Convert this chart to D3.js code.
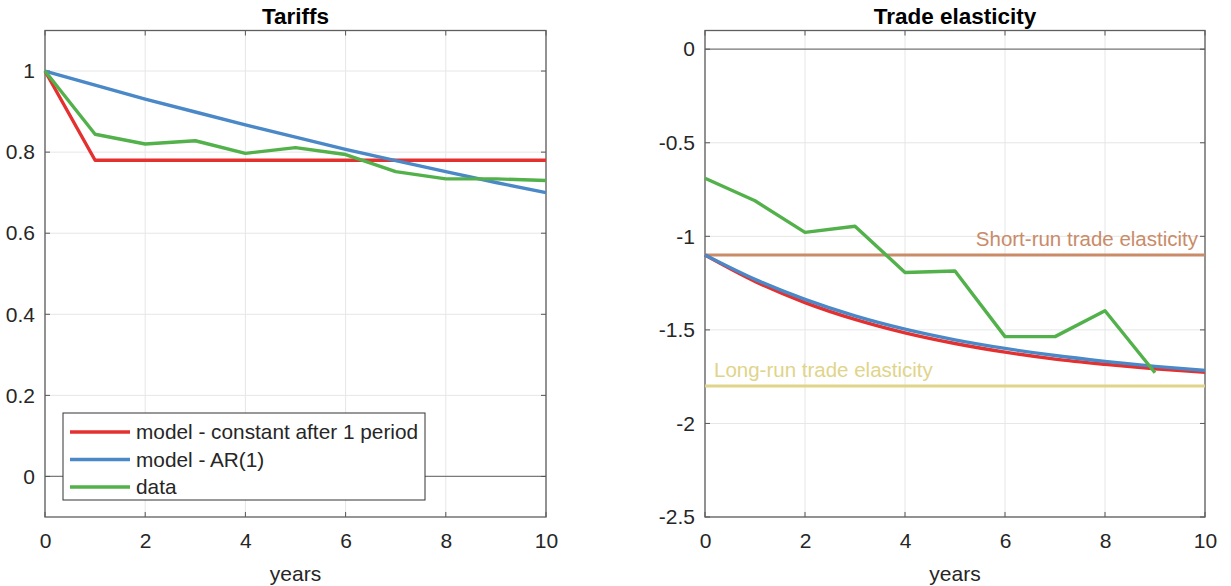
<!DOCTYPE html>
<html>
<head>
<meta charset="utf-8">
<script src="https://cdn.jsdelivr.net/npm/d3@7/dist/d3.min.js"></script>
<style>
  body { margin: 0; background: #fff; }
  text { font-family: "Liberation Sans", Arial, sans-serif; }
</style>
</head>
<body>
<div id="chart"></div>
<script>
// years on the x axis
var years = [0, 1, 2, 3, 4, 5, 6, 7, 8, 9, 10];

// Tariffs panel
var tariffConst = [1, 0.78, 0.78, 0.78, 0.78, 0.78, 0.78, 0.78, 0.78, 0.78, 0.78];
var tariffAR1 = [1, 0.965, 0.931, 0.899, 0.867, 0.837, 0.807, 0.779, 0.752, 0.725, 0.700];
var tariffData = [1, 0.844, 0.82, 0.828, 0.797, 0.811, 0.794, 0.752, 0.734, 0.734, 0.73];
var tariffTicks = [0, 0.2, 0.4, 0.6, 0.8, 1];

// Trade elasticity panel
var elastConst = [-1.100, -1.241, -1.354, -1.444, -1.516, -1.573, -1.619, -1.656, -1.684, -1.708, -1.727];
var elastAR1 = [-1.100, -1.230, -1.337, -1.425, -1.496, -1.553, -1.599, -1.637, -1.668, -1.695, -1.717];
var elastData = [-0.69, -0.81, -0.979, -0.946, -1.193, -1.185, -1.536, -1.536, -1.398, -1.729];
var elastTicks = [-2.5, -2, -1.5, -1, -0.5, 0];
var shortRun = -1.1;
var longRun = -1.8;

var xTicks = [0, 2, 4, 6, 8, 10];
var legendLabels = ["model - constant after 1 period", "model - AR(1)", "data"];

var colors = {
  red: "#e4302f",
  blue: "#4a88c7",
  green: "#52b14a",
  shortRun: "#c98b68",
  longRun: "#e0d48a",
  text: "#262626"
};

var svg = d3.select("#chart")
  .append("svg")
  .attr("width", 1231)
  .attr("height", 586);

// draw one MATLAB-style axes box
function drawPanel(opts) {
  var g = svg.append("g").attr("transform", `translate(${opts.left}, ${opts.top})`);
  var x = d3.scaleLinear().domain([0, 10]).range([0, opts.width]);
  var y = d3.scaleLinear().domain(opts.yDomain).range([opts.height, 0]);

  // grid
  g.selectAll(".vgrid").data(xTicks).enter().append("line")
    .attr("x1", d => x(d)).attr("x2", d => x(d))
    .attr("y1", 0).attr("y2", opts.height)
    .attr("stroke", "#e6e6e6").attr("stroke-width", 1);
  g.selectAll(".hgrid").data(opts.yTicks).enter().append("line")
    .attr("x1", 0).attr("x2", opts.width)
    .attr("y1", d => y(d)).attr("y2", d => y(d))
    .attr("stroke", "#e6e6e6").attr("stroke-width", 1);

  // zero line
  g.append("line")
    .attr("x1", x(0)).attr("x2", x(10))
    .attr("y1", y(0)).attr("y2", y(0))
    .attr("stroke", "#7a7a7a").attr("stroke-width", 1.3);

  // axes with inner ticks
  var bottomAxis = d3.axisBottom(x).tickValues(xTicks).tickSize(0).tickPadding(16).tickFormat(d3.format("d"));
  var leftAxis = d3.axisLeft(y).tickValues(opts.yTicks).tickSize(0).tickPadding(10).tickFormat(d => String(d));

  var bx = g.append("g").attr("transform", `translate(0, ${opts.height})`).call(bottomAxis);
  var lx = g.append("g").call(leftAxis);
  [bx, lx].forEach(function(a) {
    a.select(".domain").remove();
    a.selectAll("text").style("font-size", "21px").attr("fill", colors.text)
      .style("font-family", "'Liberation Sans', Arial, sans-serif");
  });

  var tl = 5;
  g.selectAll(".xt").data(xTicks).enter().append("path")
    .attr("d", d => `M${x(d)},${opts.height}v${-tl}M${x(d)},0v${tl}`)
    .attr("stroke", "#555").attr("stroke-width", 1);
  g.selectAll(".yt").data(opts.yTicks).enter().append("path")
    .attr("d", d => `M0,${y(d)}h${tl}M${opts.width},${y(d)}h${-tl}`)
    .attr("stroke", "#555").attr("stroke-width", 1);

  g.append("rect")
    .attr("x", 0).attr("y", 0)
    .attr("width", opts.width).attr("height", opts.height)
    .attr("fill", "none").attr("stroke", "#5e5e5e").attr("stroke-width", 1.3);

  // title
  g.append("text")
    .attr("x", opts.width / 2).attr("y", -7)
    .attr("text-anchor", "middle")
    .style("font-size", "22.5px").style("font-weight", "bold")
    .attr("fill", "#000")
    .text(opts.title);

  // x label
  g.append("text")
    .attr("x", opts.width / 2).attr("y", opts.height + 64)
    .attr("text-anchor", "middle")
    .style("font-size", "21px")
    .attr("fill", colors.text)
    .text("years");

  return { g: g, x: x, y: y };
}

function addLine(p, values, color, curve) {
  var line = d3.line()
    .x((d, i) => p.x(years[i]))
    .y(d => p.y(d))
    .curve(curve || d3.curveLinear);
  p.g.append("path")
    .datum(values)
    .attr("d", line)
    .attr("fill", "none")
    .attr("stroke", color)
    .attr("stroke-width", 3.4)
    .attr("stroke-linejoin", "round");
}

// left panel: Tariffs
var left = drawPanel({
  left: 45, top: 30.5, width: 501, height: 486.5,
  yDomain: [-0.1, 1.1], yTicks: tariffTicks, title: "Tariffs"
});
addLine(left, tariffConst, colors.red);
addLine(left, tariffAR1, colors.blue);
addLine(left, tariffData, colors.green);

// legend
var lg = svg.append("g").attr("transform", "translate(63, 413)");
lg.append("rect")
  .attr("width", 362).attr("height", 87)
  .attr("fill", "#fff").attr("stroke", "#333").attr("stroke-width", 1);
var legendColors = [colors.red, colors.blue, colors.green];
legendLabels.forEach(function(lab, i) {
  var yy = 19 + i * 27.5;
  lg.append("line")
    .attr("x1", 7).attr("x2", 67).attr("y1", yy).attr("y2", yy)
    .attr("stroke", legendColors[i]).attr("stroke-width", 3.4);
  lg.append("text")
    .attr("x", 73).attr("y", yy + 7)
    .style("font-size", "20.8px")
    .attr("fill", colors.text)
    .text(lab);
});

// right panel: Trade elasticity
var right = drawPanel({
  left: 705, top: 30.5, width: 500, height: 486.5,
  yDomain: [-2.5, 0.1], yTicks: elastTicks, title: "Trade elasticity"
});

[[shortRun, colors.shortRun], [longRun, colors.longRun]].forEach(function(h) {
  right.g.append("line")
    .attr("x1", right.x(0)).attr("x2", right.x(10))
    .attr("y1", right.y(h[0])).attr("y2", right.y(h[0]))
    .attr("stroke", h[1]).attr("stroke-width", 3);
});

right.g.append("text")
  .attr("x", right.x(10) - 7).attr("y", right.y(shortRun) - 9)
  .attr("text-anchor", "end")
  .style("font-size", "20.5px")
  .attr("fill", colors.shortRun)
  .text("Short-run trade elasticity");

right.g.append("text")
  .attr("x", right.x(0) + 9).attr("y", right.y(longRun) - 9)
  .style("font-size", "20.5px")
  .attr("fill", colors.longRun)
  .text("Long-run trade elasticity");

addLine(right, elastConst, colors.red, d3.curveMonotoneX);
addLine(right, elastAR1, colors.blue, d3.curveMonotoneX);
addLine(right, elastData, colors.green);
</script>
</body>
</html>
